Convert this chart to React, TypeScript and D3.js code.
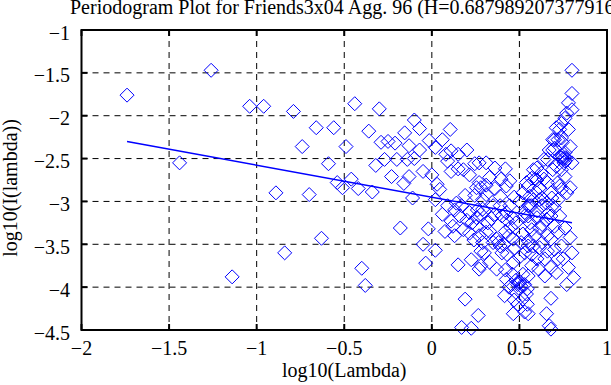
import React from "react";
import * as d3 from "d3";

const W = 611;
const H = 385;

const xTicks = [-2, -1.5, -1, -0.5, 0, 0.5, 1];
const xTickLabels = ["\u22122", "\u22121.5", "\u22121", "\u22120.5", "0", "0.5", "1"];
const yTicks = [-1, -1.5, -2, -2.5, -3, -3.5, -4, -4.5];
const yTickLabels = ["\u22121", "\u22121.5", "\u22122", "\u22122.5", "\u22123", "\u22123.5", "\u22124", "\u22124.5"];

const title = "Periodogram Plot for Friends3x04 Agg. 96 (H=0.6879892073779163)";
const xLabel = "log10(Lambda)";
const yLabel = "log10(I(lambda))";

// fitted line (two end points)
const fitX = [-1.74, 0.8];
const fitY = [-2.3, -3.25];

// periodogram points [log10(lambda), log10(I(lambda))]
const points: [number, number][] = [
  [-1.74, -1.76], [-1.44, -2.55], [-1.26, -1.47], [-1.14, -3.88], [-1.04, -1.89], [-0.96, -1.89],
  [-0.89, -2.9], [-0.84, -3.6], [-0.79, -1.95], [-0.74, -2.36], [-0.7, -2.92], [-0.66, -2.14],
  [-0.63, -3.43], [-0.59, -2.56], [-0.56, -2.14], [-0.54, -2.78], [-0.51, -2.84], [-0.49, -2.36],
  [-0.46, -2.74], [-0.44, -1.86], [-0.42, -2.85], [-0.4, -3.78], [-0.38, -3.98], [-0.36, -2.18],
  [-0.34, -2.89],
  [-0.32, -2.58], [-0.3, -1.92], [-0.29, -2.31], [-0.27, -2.51], [-0.25, -2.3], [-0.23, -2.71],
  [-0.21, -2.32], [-0.18, -3.31], [-0.2, -2.51], [-0.16, -2.79], [-0.155, -2.2], [-0.14, -2.51],
  [-0.13, -2.71], [-0.13, -2.35], [-0.11, -2.96], [-0.1, -2.5], [-0.1, -2.05], [-0.07, -2.15],
  [-0.07, -2.4], [-0.05, -2.65], [-0.05, -3.5], [-0.035, -3.72], [-0.015, -2.29], [-0.02, -3.32],
  [0.0, -2.69], [0.02, -2.37], [0.02, -2.98], [0.03, -2.8], [0.02, -3.57], [0.045, -2.86],
  [0.06, -2.28], [0.06, -3.15], [0.075, -3.35], [0.08, -2.45], [0.09, -2.53], [0.105, -2.16],
  [0.11, -2.41], [0.11, -2.65], [0.11, -3.23], [0.12, -3.29], [0.14, -3.02], [0.15, -2.45],
  [0.15, -2.62], [0.15, -3.74], [0.16, -3.17], [0.17, -4.47], [0.18, -2.63], [0.19, -2.93],
  [0.2, -2.4], [0.19, -4.14], [0.215, -3.13], [0.215, -3.37], [0.215, -2.69], [0.225, -3.68],
  [0.245, -2.56], [0.225, -4.48], [0.255, -3.19], [0.255, -2.84], [0.265, -4.33], [0.27, -3.4],
  [0.27, -3.79], [0.27, -2.78], [0.29, -2.98],
  [0.13, -3.1], [0.17, -3.05], [0.2, -3.22], [0.23, -3.25], [0.18, -3.33], [0.24, -3.45],
  [0.26, -3.1], [0.13, -3.4], [0.09, -3.05], [0.28, -3.15], [0.29, -3.48], [0.28, -3.58],
  [0.27, -2.55], [0.31, -2.55], [0.36, -2.61], [0.28, -2.84], [0.31, -2.81], [0.33, -2.72],
  [0.395, -2.74], [0.425, -2.82], [0.445, -2.76], [0.54, -2.78], [0.245, -2.93], [0.29, -3.09],
  [0.35, -3.05], [0.39, -3.05], [0.39, -2.94], [0.425, -3.13], [0.445, -3.05], [0.48, -3.25],
  [0.53, -3.17], [0.255, -3.29], [0.32, -3.25], [0.31, -3.36], [0.35, -3.48], [0.39, -3.52],
  [0.4, -3.6], [0.465, -3.44], [0.51, -3.48], [0.55, -3.52], [0.28, -3.75], [0.33, -3.71],
  [0.37, -3.79], [0.465, -3.71], [0.425, -3.91], [0.455, -3.97], [0.5, -3.93], [0.53, -3.97],
  [0.415, -4.1], [0.48, -4.06], [0.52, -4.14], [0.465, -4.31], [0.53, -4.29],
  [0.38, -3.48], [0.41, -3.5], [0.37, -3.44], [0.49, -3.97], [0.51, -3.99], [0.5, -3.95],
  [0.48, -3.92], [0.5, -4.02], [0.4, -3.17], [0.43, -3.22], [0.46, -3.19], [0.36, -3.15],
  [0.34, -3.2], [0.45, -3.3], [0.42, -3.35], [0.44, -3.4], [0.47, -3.55], [0.43, -3.62],
  [0.46, -3.85], [0.42, -3.8], [0.44, -4.0], [0.47, -4.15], [0.49, -4.2], [0.52, -3.85],
  [0.5, -3.65], [0.53, -3.6], [0.52, -3.38], [0.5, -3.0], [0.47, -2.95], [0.52, -2.9],
  [0.55, -3.05], [0.31, -2.92], [0.36, -2.85], [0.42, -2.62], [0.33, -3.35], [0.3, -3.6],
  [0.8, -1.47], [0.8, -1.74], [0.78, -1.85], [0.8, -1.93], [0.76, -2.03], [0.77, -1.97],
  [0.71, -2.14], [0.78, -2.16], [0.73, -2.16], [0.74, -2.09], [0.74, -2.26], [0.7, -2.28],
  [0.7, -2.38], [0.79, -2.36], [0.67, -2.4], [0.69, -2.4], [0.74, -2.49], [0.77, -2.51],
  [0.75, -2.5], [0.76, -2.53], [0.745, -2.47], [0.765, -2.49], [0.755, -2.55], [0.8, -2.55],
  [0.64, -2.51], [0.6, -2.61], [0.58, -2.63], [0.69, -2.63], [0.76, -2.71], [0.57, -2.73],
  [0.64, -2.74], [0.6, -2.75], [0.72, -2.78], [0.79, -2.84], [0.55, -2.82], [0.615, -2.84],
  [0.73, -2.82], [0.68, -2.9], [0.77, -2.9], [0.58, -2.98], [0.615, -2.98], [0.655, -3.02],
  [0.72, -2.98], [0.69, -3.05], [0.56, -3.05], [0.53, -3.13], [0.6, -3.11], [0.67, -3.13],
  [0.73, -3.17], [0.56, -3.25], [0.63, -3.27], [0.7, -3.29], [0.76, -3.31], [0.79, -3.42],
  [0.59, -3.4], [0.66, -3.4], [0.55, -3.46], [0.615, -3.54], [0.7, -3.56], [0.8, -3.6],
  [0.57, -3.62], [0.645, -3.67], [0.72, -3.67], [0.78, -3.77], [0.68, -3.77], [0.61, -3.79],
  [0.55, -3.87], [0.81, -3.89], [0.77, -3.97], [0.545, -4.02], [0.545, -4.2], [0.68, -4.13],
  [0.655, -4.31], [0.55, -4.31], [0.67, -4.45], [0.68, -4.49],
  [0.73, -2.48], [0.72, -2.28], [0.745, -2.31], [0.69, -2.28], [0.76, -2.43], [0.66, -2.51],
  [0.71, -2.59], [0.74, -2.63], [0.625, -2.67], [0.59, -2.74], [0.66, -2.78], [0.74, -2.86],
  [0.6, -2.9], [0.63, -2.96], [0.685, -2.96], [0.56, -2.94], [0.57, -3.05], [0.63, -3.05],
  [0.7, -3.07], [0.55, -3.17], [0.6, -3.19], [0.655, -3.21], [0.68, -3.17], [0.615, -3.31],
  [0.57, -3.33], [0.72, -3.36], [0.68, -3.44], [0.63, -3.48], [0.58, -3.52], [0.74, -3.52],
  [0.66, -3.58], [0.6, -3.67], [0.75, -3.67], [0.57, -3.75], [0.71, -3.83], [0.645, -3.87],
  [0.54, -4.08],
];

const M = { left: 81.5, right: 607, top: 30, bottom: 330 };
const FONT = "'Liberation Serif', 'Times New Roman', serif";
const BLUE = "#0000ff";

export default function App() {
  const x = d3.scaleLinear().domain([-2, 1]).range([M.left, M.right]);
  const y = d3.scaleLinear().domain([-4.5, -1]).range([M.bottom, M.top]);
  const r = 7;
  const diamond = (cx: number, cy: number) =>
    `M${cx},${cy - r}L${cx + r},${cy}L${cx},${cy + r}L${cx - r},${cy}Z`;
  const line = d3
    .line<number>()
    .x((_, i) => x(fitX[i]))
    .y((d) => y(d));
  const tickLen = 6;

  return (
    <svg
      width={W}
      height={H}
      style={{ position: "absolute", left: 0, top: 0, display: "block", background: "#fff" }}
    >
      <rect x={0} y={0} width={W} height={H} fill="#fff" />
      {/* grid */}
      {xTicks.slice(1, -1).map((t) => (
        <line key={"gx" + t} x1={x(t)} x2={x(t)} y1={M.top} y2={M.bottom} stroke="#000" strokeWidth={1} strokeDasharray="6,5" />
      ))}
      {yTicks.slice(1, -1).map((t) => (
        <line key={"gy" + t} y1={y(t)} y2={y(t)} x1={M.left} x2={M.right} stroke="#000" strokeWidth={1} strokeDasharray="6,5" />
      ))}
      {/* points */}
      <g fill="none" stroke={BLUE} strokeWidth={1}>
        {points.map((p, i) => (
          <path key={i} d={diamond(x(p[0]), y(p[1]))} />
        ))}
      </g>
      {/* fit line */}
      <path d={line(fitY) || ""} fill="none" stroke={BLUE} strokeWidth={1.5} />
      {/* ticks */}
      <g stroke="#000" strokeWidth={2}>
        {xTicks.map((t) => (
          <g key={"tx" + t}>
            <line x1={x(t)} x2={x(t)} y1={M.bottom} y2={M.bottom - tickLen} />
            <line x1={x(t)} x2={x(t)} y1={M.top} y2={M.top + tickLen} />
          </g>
        ))}
        {yTicks.map((t) => (
          <g key={"ty" + t}>
            <line y1={y(t)} y2={y(t)} x1={M.left} x2={M.left + tickLen} />
            <line y1={y(t)} y2={y(t)} x1={M.right} x2={M.right - tickLen} />
          </g>
        ))}
      </g>
      {/* frame */}
      <rect x={M.left} y={M.top} width={M.right - M.left} height={M.bottom - M.top} fill="none" stroke="#000" strokeWidth={2} />
      {/* tick labels */}
      <g fontFamily={FONT} fontSize={20} fill="#000">
        {xTicks.map((t, i) => (
          <text key={"lx" + t} x={x(t)} y={355} textAnchor="middle">
            {xTickLabels[i]}
          </text>
        ))}
        {yTicks.map((t, i) => (
          <text key={"ly" + t} x={70} y={y(t) + 9.5} textAnchor="end">
            {yTickLabels[i]}
          </text>
        ))}
        <text x={(M.left + M.right) / 2} y={377} textAnchor="middle">
          {xLabel}
        </text>
        <text transform={`translate(17,188) rotate(-90)`} textAnchor="middle">
          {yLabel}
        </text>
        <text x={70} y={14}>
          {title}
        </text>
      </g>
    </svg>
  );
}
